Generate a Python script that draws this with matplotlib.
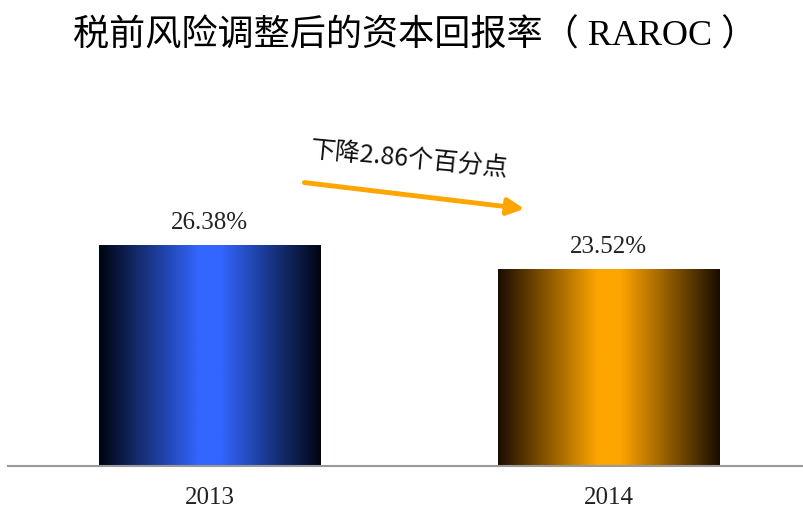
import numpy as np
import matplotlib
matplotlib.use('Agg')
import matplotlib.pyplot as plt
from matplotlib.colors import LinearSegmentedColormap

years = ['2013', '2014']
raroc = [26.38, 23.52]
bar_colors = ['#3366FF', '#FFA500']
edge_dark = ['#000510', '#1A0D00']

CJK = ['Noto Sans CJK SC', 'DejaVu Sans']
SERIF = ['Liberation Serif', 'Noto Sans CJK SC']

fig = plt.figure(figsize=(8.04, 5.08), dpi=100)
ax = fig.add_axes([8 / 804, (508 - 466) / 508, 796 / 804, 366 / 508])

bar_w = 0.556
x = np.arange(len(years))
bars = ax.bar(x, raroc, width=bar_w, facecolor='none', edgecolor='none')

# horizontal gradient: dark edges, bright centre
grad = np.linspace(0, 1, 256).reshape(1, -1)
for rect, c, d in zip(bars, bar_colors, edge_dark):
    cmap = LinearSegmentedColormap.from_list(
        'g', [(0, d), (0.45, c), (0.55, c), (1, d)])
    x0, w, h = rect.get_x(), rect.get_width(), rect.get_height()
    im = ax.imshow(grad, cmap=cmap, aspect='auto',
                   extent=[x0, x0 + w, 0, h], zorder=2)
    im.set_clip_path(rect)
    ax.text(x0 + w / 2, h + 1.3, f'{h:.2f}%', ha='center', va='bottom',
            fontsize=18, family=SERIF, color='#222222')

ax.set_xlim(-0.506, 1.489)
ax.set_ylim(0, 43.6)
for s in ['top', 'right', 'left']:
    ax.spines[s].set_visible(False)
ax.spines['bottom'].set_color('#999999')
ax.spines['bottom'].set_linewidth(1.5)
ax.set_yticks([])
ax.set_xticks(x)
ax.set_xticklabels(years, fontsize=18, family=SERIF, color='#222222')
ax.tick_params(axis='x', length=0, pad=15)

# trend arrow and note
drop = raroc[0] - raroc[1]
ax.annotate('', xy=(0.795, 30.6), xytext=(0.23, 33.8),
            arrowprops=dict(arrowstyle='-|>,head_length=1.0,head_width=0.5',
                            color='#FFA500', lw=3.5))
ax.text(0.50, 36.6, f'下降{drop:.2f}个百分点', ha='center', va='center',
        rotation=-5.5, fontsize=18, family=CJK, color='#111111')

fig.text(415 / 804, 1 - 36 / 508, '税前风险调整后的资本回报率（ RAROC ）',
         ha='center', va='center', fontsize=26, family=SERIF, color='black')

fig.savefig('out.png', dpi=100)
